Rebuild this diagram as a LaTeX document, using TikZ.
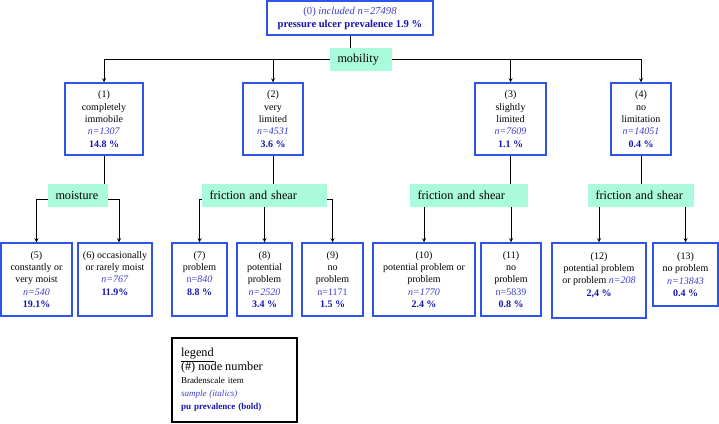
\documentclass[tikz,border=0pt]{standalone}
\usepackage{fontspec}
\setmainfont{Liberation Serif}
\usetikzlibrary{positioning, calc}
\definecolor{boxblue}{RGB}{45,85,235}
\definecolor{nblue}{RGB}{60,60,205}
\definecolor{pblue}{RGB}{20,20,175}
\definecolor{mint}{RGB}{170,250,220}
\tikzstyle{leaf} = [rectangle, draw=boxblue, line width=1.5pt, align=center, inner sep=1pt, font=\rmfamily\fontsize{10}{12.4}\selectfont]
\tikzstyle{item} = [rectangle, fill=mint, minimum height=23pt, inner xsep=7.5pt, inner ysep=0pt, align=left, font=\rmfamily\fontsize{12.2}{13}\selectfont]
\tikzstyle{arrow} = [line width=0.8pt,->,>=stealth]
\tikzstyle{line} = [line width=0.8pt]
\newcommand{\nsamp}[1]{\textcolor{nblue}{\textit{#1}}}
\newcommand{\puprev}[1]{\textcolor{pblue}{\textbf{#1}}}

\begin{document}
\begin{tikzpicture}[x=1pt,y=-1pt]
		\useasboundingbox (0,0) rectangle (719,423);
		\node (root) [leaf, minimum width=166pt, minimum height=34pt, font=\rmfamily\fontsize{10.6}{13}\selectfont] at (350,18) {\textcolor{nblue}{(0) \textit{included n=27498}}\\\puprev{pressure ulcer prevalence 1.9 \%}};
		\node (mob) [item, text width=47pt] at (361,59.5) {mobility};
		
		%mobility
		\node (n1) [leaf, minimum width=78pt, minimum height=72pt] at (104,119) {(1)\\completely\\immobile\\\nsamp{n=1307}\\\puprev{14.8 \%}};
		\node (n2) [leaf, minimum width=60pt, minimum height=72pt] at (273,119) {(2)\\very\\limited\\\nsamp{n=4531}\\\puprev{3.6 \%}};
		\node (n3) [leaf, minimum width=71pt, minimum height=72pt] at (510.5,119) {(3)\\slightly\\limited\\\nsamp{n=7609}\\\puprev{1.1 \%}};
		\node (n4) [leaf, minimum width=60pt, minimum height=72pt] at (641,119) {(4)\\no\\limitation\\\nsamp{n=14051}\\\puprev{0.4 \%}};
		
		\node (moist) [item, text width=45pt] at (78,195.5) {moisture};
		\node (fric2) [item, text width=110pt] at (264.5,195.5) {friction and shear};
		\node (fric3) [item, text width=103pt] at (469,195.5) {friction and shear};
		\node (fric4) [item, text width=91pt] at (641,195.5) {friction and shear};
		
		%moisture / friction and shear
		\node (n5) [leaf, minimum width=71pt, minimum height=73pt] at (36.5,279.5) {(5)\\constantly or\\very moist\\\nsamp{n=540}\\\puprev{19.1\%}};
		\node (n6) [leaf, minimum width=74pt, minimum height=73pt] at (115,279.5) {(6) occasionally\\or rarely moist\\\nsamp{n=767}\\\puprev{11.9\%}\\~};
		\node (n7) [leaf, minimum width=55pt, minimum height=73pt] at (199.5,279.5) {(7)\\problem\\\textcolor{nblue}{n=\textit{840}}\\\puprev{8.8 \%}\\~};
		\node (n8) [leaf, minimum width=55pt, minimum height=73pt] at (264.5,279.5) {(8)\\potential\\problem\\\nsamp{n=2520}\\\puprev{3.4 \%}};
		\node (n9) [leaf, minimum width=61pt, minimum height=73pt] at (332.5,279.5) {(9)\\no\\problem\\\textcolor{nblue}{n=1171}\\\puprev{1.5 \%}};
		\node (n10) [leaf, minimum width=102pt, minimum height=73pt] at (424,279.5) {(10)\\potential problem or\\problem\\\nsamp{n=1770}\\\puprev{2.4 \%}};
		\node (n11) [leaf, minimum width=60pt, minimum height=73pt] at (511,279.5) {(11)\\no\\problem\\\textcolor{nblue}{n=5839}\\\puprev{0.8 \%}};
		\node (n12) [leaf, minimum width=94pt, minimum height=75pt] at (599,280.5) {(12)\\potential problem\\or problem \nsamp{n=208}\\\puprev{2,4 \%}\\~};
		\node (n13) [leaf, minimum width=65pt, minimum height=63pt] at (685.5,274.5) {(13)\\no problem\\\nsamp{n=13843}\\\puprev{0.4 \%}};
		
		\node (legend) [rectangle, draw=black, line width=2pt, minimum width=125pt, minimum height=84pt, text width=107pt, inner xsep=9pt, align=left, font=\rmfamily\fontsize{9}{13.3}\selectfont] at (234.5,380) {\underline{\fontsize{12.3}{13.3}\selectfont legend}\\{\fontsize{12.3}{13.3}\selectfont (\#) node number}\\Bradenscale item\\\nsamp{sample (italics)}\\\puprev{pu prevalence (bold)}};
		
		%connections
		\draw [line](root.south) -- (root.south |- mob.north);
		\draw [arrow](mob.west) -| (n1.north);
		\draw [arrow](mob.east) -| (n4.north);
		\draw [arrow](n2.north |- mob.west) -- (n2.north);
		\draw [arrow](n3.north |- mob.east) -- (n3.north);
		
		\draw [line](n1.south) -- (n1.south |- moist.north);
		\draw [arrow]([yshift=-4pt]moist.west) -| (n5.north);
		\draw [arrow]([yshift=-4pt]moist.east) -| ($(n6.north)+(4,0)$);
		
		\draw [line](n2.south) -- (n2.south |- fric2.north);
		\draw [arrow]([yshift=-4pt]fric2.west) -| (n7.north);
		\draw [arrow]([yshift=-4pt]fric2.east) -| (n9.north);
		\draw [arrow](fric2.south) -- (n8.north);
		
		\draw [line](n3.south) -- (n3.south |- fric3.north);
		\draw [arrow](n10.north |- fric3.south) -- (n10.north);
		\draw [arrow](n11.north |- fric3.south) -- (n11.north);
		
		\draw [line](n4.south) -- (fric4.north);
		\draw [arrow](n12.north |- fric4.south) -- (n12.north);
		\draw [arrow](n13.north |- fric4.south) -- (n13.north);
	\end{tikzpicture}
\end{document}
